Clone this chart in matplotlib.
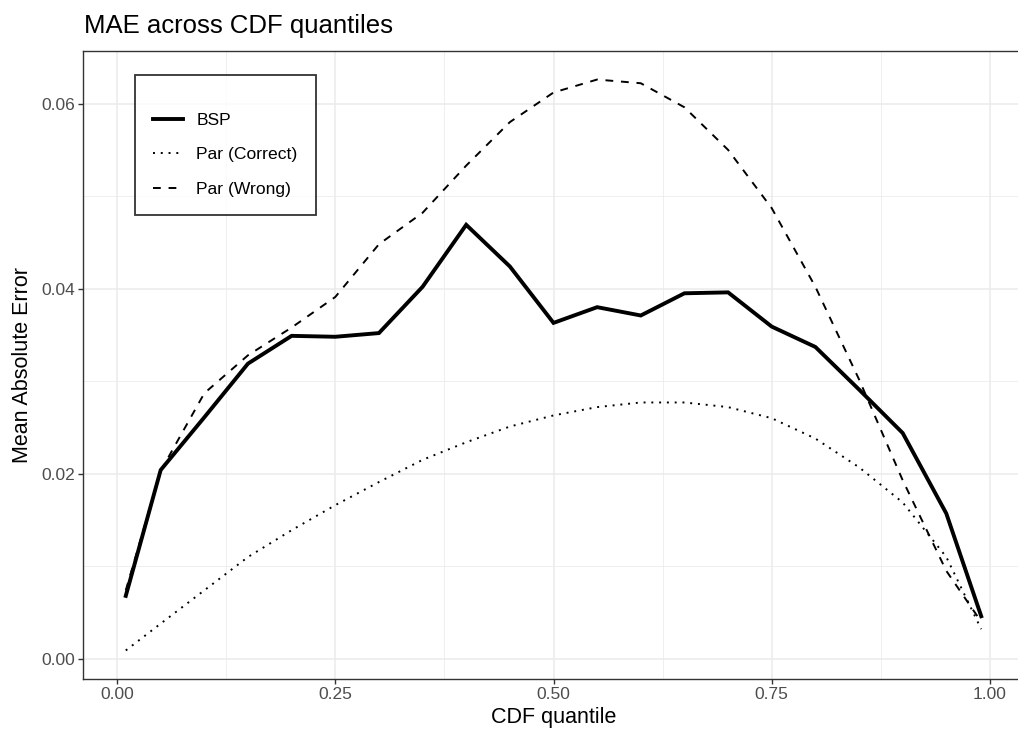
import numpy as np
import matplotlib.pyplot as plt
from matplotlib.ticker import MultipleLocator, FormatStrFormatter

plt.rcParams['font.family'] = ['Liberation Sans', 'DejaVu Sans']

# CDF quantiles
quantile = [0.01, 0.05, 0.10, 0.15, 0.20, 0.25, 0.30, 0.35, 0.40, 0.45, 0.50,
            0.55, 0.60, 0.65, 0.70, 0.75, 0.80, 0.85, 0.90, 0.95, 0.99]

# mean absolute error per method
mae_bsp = [0.0068, 0.0204, 0.0261, 0.0319, 0.0349, 0.0348, 0.0352, 0.0402, 0.0469, 0.0424, 0.0363,
           0.0380, 0.0371, 0.0395, 0.0396, 0.0359, 0.0337, 0.0291, 0.0244, 0.0157, 0.0046]
mae_par_correct = [0.0009, 0.0038, 0.0074, 0.0110, 0.0139, 0.0166, 0.0191, 0.0215, 0.0234, 0.0251, 0.0263,
                   0.0272, 0.0277, 0.0277, 0.0272, 0.0260, 0.0238, 0.0207, 0.0169, 0.0110, 0.0032]
mae_par_wrong = [0.0074, 0.0203, 0.0287, 0.0328, 0.0358, 0.0391, 0.0448, 0.0482, 0.0533, 0.0580, 0.0612,
                 0.0626, 0.0622, 0.0596, 0.0550, 0.0487, 0.0402, 0.0302, 0.0193, 0.0095, 0.0040]

fig = plt.figure(figsize=(10.18, 7.36), dpi=100)
# panel runs a little past the right edge of the picture, like the reference
ax = fig.add_axes([83 / 1018, 57 / 736, 941 / 1018, 628 / 736])

ax.plot(quantile, mae_bsp, color='black', lw=2.8, solid_joinstyle='miter', label='BSP')
ax.plot(quantile, mae_par_correct, color='black', lw=1.4, linestyle=(0, (1, 3)), label='Par (Correct)')
ax.plot(quantile, mae_par_wrong, color='black', lw=1.4, linestyle=(0, (4, 4)), label='Par (Wrong)')

# ggplot-like expansion (5%)
allv = mae_bsp + mae_par_correct + mae_par_wrong
xr = max(quantile) - min(quantile)
yr = max(allv) - min(allv)
ax.set_xlim(min(quantile) - 0.05 * xr, max(quantile) + 0.05 * xr)
ax.set_ylim(min(allv) - 0.05 * yr, max(allv) + 0.05 * yr)

ax.xaxis.set_major_locator(MultipleLocator(0.25))
ax.xaxis.set_minor_locator(MultipleLocator(0.125))
ax.yaxis.set_major_locator(MultipleLocator(0.02))
ax.yaxis.set_minor_locator(MultipleLocator(0.01))
ax.xaxis.set_major_formatter(FormatStrFormatter('%.2f'))
ax.yaxis.set_major_formatter(FormatStrFormatter('%.2f'))

# theme_bw look
ax.grid(True, which='major', color='#EBEBEB', lw=1.1)
ax.grid(True, which='minor', color='#EBEBEB', lw=0.55)
ax.set_axisbelow(True)
for s in ax.spines.values():
    s.set_color('#333333')
    s.set_linewidth(1.0)
ax.tick_params(which='major', length=3.5, width=1.0, color='#333333', labelcolor='#4D4D4D', labelsize=12.5, pad=2.5)
ax.tick_params(which='minor', length=0)

ax.set_xlabel('CDF quantile', fontsize=15.5, labelpad=3)
ax.set_ylabel('Mean Absolute Error', fontsize=15.5, labelpad=6)
fig.text(84 / 1018, 1 - 33 / 736, 'MAE across CDF quantiles', fontsize=18.5, ha='left', va='baseline')

leg = ax.legend(loc='upper left', bbox_to_anchor=(0.0553, 0.962), fontsize=12.6, frameon=True,
                fancybox=False, edgecolor='black', handlelength=1.7, handletextpad=0.78,
                labelspacing=1.09, borderpad=1.02, borderaxespad=0,
                title=' ', title_fontsize=1)
leg.get_frame().set_linewidth(1.3)

fig.savefig('out.png', dpi=100)
